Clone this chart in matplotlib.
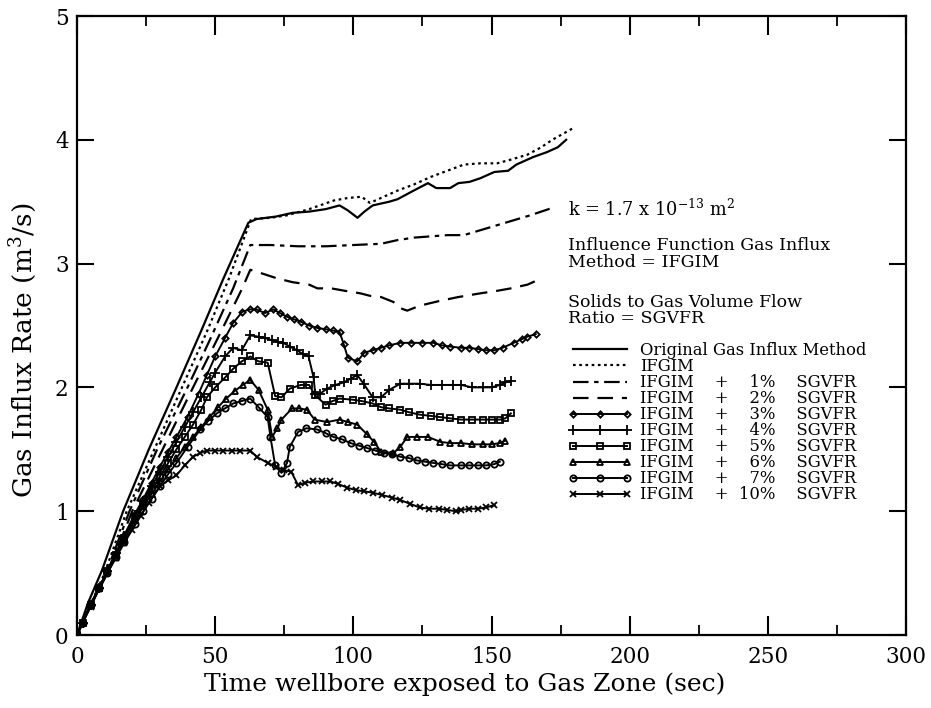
import matplotlib
matplotlib.use("Agg")
import matplotlib.pyplot as plt
from matplotlib.ticker import MultipleLocator

plt.rcParams['font.family'] = ['DejaVu Serif']
plt.rcParams['mathtext.fontset'] = 'dejavuserif'

# Gas influx rate (m^3/s) versus exposure time (s) for each method
t_orig = [0, 4, 9, 16.7, 26, 36, 45, 53, 62, 65, 72, 78, 84, 90, 95, 98, 101.5, 104, 107, 113, 116, 121, 127, 130, 135, 138, 142, 146, 151, 156, 159, 165, 170, 174, 177]
q_orig = [0, 0.26, 0.52, 1.0, 1.5, 2.0, 2.46, 2.88, 3.33, 3.36, 3.38, 3.41, 3.42, 3.44, 3.47, 3.43, 3.37, 3.42, 3.47, 3.5, 3.52, 3.58, 3.65, 3.61, 3.61, 3.65, 3.66, 3.69, 3.74, 3.75, 3.8, 3.86, 3.9, 3.94, 4.0]

t_ifgim = [0, 5, 10, 18, 28, 38, 47, 55, 63, 70, 76, 84, 93, 98, 103, 106, 110, 116, 122, 128, 134, 140, 146, 152, 157, 163, 168, 172, 176, 180]
q_ifgim = [0, 0.25, 0.5, 1.0, 1.5, 2.0, 2.45, 2.88, 3.36, 3.37, 3.39, 3.44, 3.51, 3.53, 3.54, 3.49, 3.53, 3.59, 3.64, 3.7, 3.75, 3.8, 3.81, 3.81, 3.84, 3.88, 3.94, 4.0, 4.05, 4.1]

t_1 = [0, 5, 10.5, 19, 29, 40, 48, 56.5, 62.7, 70, 80, 90, 100, 110, 116, 122, 128, 134, 140, 146, 152, 158, 164, 168, 172]
q_1 = [0, 0.25, 0.5, 1.0, 1.5, 2.0, 2.38, 2.8, 3.15, 3.15, 3.14, 3.14, 3.15, 3.16, 3.19, 3.21, 3.22, 3.23, 3.23, 3.27, 3.31, 3.35, 3.39, 3.42, 3.45]

t_2 = [0, 5, 11, 20, 31, 42, 51, 59.8, 62.7, 67, 72.5, 78, 84, 87, 92, 97, 102.5, 106, 110, 114.5, 117, 119.5, 124, 131.5, 138, 146, 152, 157, 163, 168]
q_2 = [0, 0.24, 0.5, 1.0, 1.5, 2.0, 2.4, 2.8, 2.95, 2.92, 2.88, 2.85, 2.83, 2.8, 2.8, 2.78, 2.76, 2.74, 2.73, 2.69, 2.64, 2.62, 2.66, 2.7, 2.73, 2.76, 2.78, 2.8, 2.83, 2.88]

t_3 = [0, 2, 5, 8, 11, 14, 17, 21, 24, 27, 30, 33, 36, 40, 44, 47, 50, 53.6, 56.5, 59.8, 62.5, 65, 68, 71, 73.5, 76, 78.5, 81, 84, 87, 90, 92.5, 95, 96.5, 98, 101.4, 104, 107, 110, 113, 117, 121, 125, 129, 132, 135, 139, 142, 145, 148, 151, 154, 158, 161, 163, 166]
q_3 = [0, 0.1, 0.24, 0.38, 0.52, 0.66, 0.8, 0.98, 1.1, 1.23, 1.36, 1.48, 1.6, 1.76, 1.95, 2.1, 2.25, 2.4, 2.52, 2.61, 2.63, 2.63, 2.6, 2.63, 2.6, 2.57, 2.55, 2.53, 2.5, 2.48, 2.47, 2.46, 2.45, 2.35, 2.24, 2.21, 2.28, 2.3, 2.32, 2.34, 2.36, 2.36, 2.36, 2.36, 2.34, 2.33, 2.32, 2.32, 2.31, 2.3, 2.3, 2.32, 2.36, 2.39, 2.41, 2.43]

t_4 = [0, 2, 5, 8, 11, 14, 17, 21, 24, 27, 30, 33, 36, 39, 42, 45, 48, 50, 53.6, 56.5, 59.6, 62.7, 65.7, 68, 70.6, 72.6, 74.6, 77, 79.6, 81.7, 83.8, 85.6, 86.2, 88, 90.5, 93.5, 96.5, 99, 101.4, 103.7, 107, 110, 113, 117, 120, 124, 128, 132, 136, 139, 143, 147, 150, 153, 155, 157]
q_4 = [0, 0.1, 0.24, 0.38, 0.52, 0.66, 0.8, 0.97, 1.08, 1.2, 1.32, 1.44, 1.56, 1.68, 1.8, 1.92, 2.04, 2.12, 2.25, 2.32, 2.3, 2.42, 2.41, 2.4, 2.38, 2.37, 2.36, 2.33, 2.3, 2.27, 2.25, 2.08, 1.95, 1.95, 1.99, 2.02, 2.04, 2.07, 2.1, 2.03, 1.92, 1.92, 1.98, 2.03, 2.03, 2.03, 2.02, 2.02, 2.02, 2.02, 2.0, 2.0, 2.0, 2.02, 2.04, 2.05]

t_5 = [0, 2, 5, 8, 11, 14, 17, 21, 24, 27, 30, 33, 36, 39, 42, 45, 47, 50, 53.6, 56.5, 59.6, 62.7, 65.7, 69, 71.7, 74, 77, 81, 84, 86, 90, 92.5, 95, 100, 103, 107, 110, 113, 117, 120, 124, 128, 131.5, 135, 139, 143, 147, 150, 153, 155, 157]
q_5 = [0, 0.1, 0.24, 0.38, 0.52, 0.65, 0.78, 0.95, 1.06, 1.17, 1.28, 1.39, 1.5, 1.6, 1.7, 1.82, 1.92, 2.0, 2.08, 2.15, 2.21, 2.25, 2.21, 2.2, 1.93, 1.92, 1.99, 2.02, 2.02, 1.94, 1.86, 1.89, 1.91, 1.9, 1.89, 1.87, 1.84, 1.83, 1.82, 1.8, 1.78, 1.77, 1.76, 1.75, 1.74, 1.74, 1.74, 1.74, 1.74, 1.75, 1.79]

t_6 = [0, 2, 5, 8, 11, 14, 17, 21, 24, 27, 30, 33, 36, 39, 42, 45, 48, 51, 54, 57, 60, 62.7, 65.7, 69, 70.6, 72.5, 74, 77.8, 80.5, 83.2, 86, 90.5, 95, 98, 101.4, 105, 107.5, 110, 114.5, 117, 119.5, 123, 127, 131.5, 135, 139, 143, 147, 150, 153, 155]
q_6 = [0, 0.1, 0.24, 0.38, 0.52, 0.65, 0.77, 0.93, 1.04, 1.14, 1.24, 1.34, 1.43, 1.52, 1.6, 1.68, 1.76, 1.84, 1.91, 1.97, 2.02, 2.06, 1.98, 1.82, 1.6, 1.67, 1.74, 1.83, 1.83, 1.82, 1.74, 1.72, 1.74, 1.72, 1.7, 1.62, 1.56, 1.48, 1.47, 1.52, 1.6, 1.6, 1.6, 1.56, 1.55, 1.55, 1.54, 1.54, 1.54, 1.55, 1.57]

t_7 = [0, 2, 5, 8, 11, 14, 17, 21, 24, 27, 30, 33, 36, 40, 44.6, 47.5, 50.6, 53.5, 56.5, 59.6, 62.7, 65.7, 69, 70, 71.7, 74, 76, 77, 80, 83, 87, 90, 92.8, 96, 99, 102, 105, 108, 111, 114, 117, 120, 123, 126, 129, 132, 135, 139, 142, 145, 148, 151, 153]
q_7 = [0, 0.1, 0.24, 0.38, 0.5, 0.63, 0.75, 0.9, 1.0, 1.1, 1.2, 1.3, 1.39, 1.52, 1.66, 1.73, 1.79, 1.83, 1.87, 1.89, 1.91, 1.84, 1.76, 1.6, 1.37, 1.31, 1.39, 1.52, 1.64, 1.67, 1.66, 1.63, 1.6, 1.58, 1.55, 1.53, 1.51, 1.49, 1.47, 1.46, 1.44, 1.43, 1.41, 1.4, 1.39, 1.38, 1.37, 1.37, 1.37, 1.37, 1.37, 1.38, 1.4]

t_10 = [0, 2, 5, 8, 11, 14, 17, 20, 23, 26, 30, 33, 36, 39, 42, 44.6, 47, 50, 53, 56, 59, 62.7, 65, 69, 72, 75, 77.5, 80, 82.5, 85.5, 88.5, 91.7, 94.5, 97.8, 101, 104, 107, 110.5, 114, 117, 120.5, 124, 127.5, 131, 134, 137, 139, 142, 145, 148, 151]
q_10 = [0, 0.1, 0.23, 0.37, 0.5, 0.62, 0.74, 0.85, 0.96, 1.07, 1.2, 1.25, 1.29, 1.37, 1.44, 1.47, 1.49, 1.49, 1.49, 1.49, 1.49, 1.49, 1.44, 1.39, 1.36, 1.33, 1.32, 1.21, 1.23, 1.24, 1.24, 1.24, 1.22, 1.19, 1.17, 1.16, 1.15, 1.13, 1.11, 1.09, 1.06, 1.03, 1.02, 1.02, 1.01, 1.0, 1.01, 1.02, 1.02, 1.03, 1.05]

labels = ["Original Gas Influx Method", "IFGIM",
          "IFGIM    +    1%    SGVFR", "IFGIM    +    2%    SGVFR",
          "IFGIM    +    3%    SGVFR", "IFGIM    +    4%    SGVFR",
          "IFGIM    +    5%    SGVFR", "IFGIM    +    6%    SGVFR",
          "IFGIM    +    7%    SGVFR", "IFGIM    +  10%    SGVFR"]

x_ticks = [0, 50, 100, 150, 200, 250, 300]
y_ticks = [0, 1, 2, 3, 4, 5]

fig = plt.figure(figsize=(9.31, 7.08), dpi=100)
ax = fig.add_axes([0.0827, 0.1031, 0.8905, 0.8743])

lw = 1.6
ax.plot(t_orig, q_orig, color='black', lw=lw, ls='-', label=labels[0])
ax.plot(t_ifgim, q_ifgim, color='black', lw=lw, ls=(0, (1.2, 1.6)), label=labels[1])
ax.plot(t_1, q_1, color='black', lw=lw, ls=(0, (7, 2.5, 2, 2.5)), label=labels[2])
ax.plot(t_2, q_2, color='black', lw=lw, ls=(0, (7, 4)), label=labels[3])

marker_series = [
    (t_3, q_3, 'D', 3.2, labels[4]),
    (t_4, q_4, '+', 6.5, labels[5]),
    (t_5, q_5, 's', 4.5, labels[6]),
    (t_6, q_6, '^', 4.5, labels[7]),
    (t_7, q_7, 'o', 4.5, labels[8]),
    (t_10, q_10, 'x', 4.5, labels[9]),
]
for t, q, m, ms, lab in marker_series:
    ax.plot(t, q, color='black', lw=1.4, marker=m, ms=ms, mfc='none',
            mec='black', mew=1.3, label=lab)

ax.set_xlim(0, 300)
ax.set_ylim(0, 5)
ax.set_xticks(x_ticks)
ax.set_yticks(y_ticks)
ax.xaxis.set_minor_locator(MultipleLocator(25))
ax.tick_params(which='major', direction='in', length=14, width=1.5,
               top=True, right=True, labelsize=15.5, pad=8)
ax.tick_params(which='minor', direction='in', length=7, width=1.3,
               top=True, right=True)
ax.tick_params(axis='y', which='major', length=12, pad=6)
for s in ax.spines.values():
    s.set_linewidth(1.6)

ax.set_xlabel("Time wellbore exposed to Gas Zone (sec)", fontsize=18)
ax.xaxis.set_label_coords(0.468, -0.06)
ax.set_ylabel("Gas Influx Rate (m$^3$/s)", fontsize=19)
ax.yaxis.set_label_coords(-0.046, 0.46)

ax.text(0.592, 0.688, "k = 1.7 x 10$^{-13}$ m$^{2}$", transform=ax.transAxes,
        fontsize=12.8, va='center', ha='left')
ax.text(0.592, 0.616, "Influence Function Gas Influx\nMethod = IFGIM",
        transform=ax.transAxes, fontsize=12.5, va='center', ha='left',
        linespacing=0.97)
ax.text(0.592, 0.524, "Solids to Gas Volume Flow\nRatio = SGVFR",
        transform=ax.transAxes, fontsize=12.5, va='center', ha='left',
        linespacing=0.97)

ax.legend(loc='upper left', bbox_to_anchor=(0.592, 0.473), frameon=False,
          fontsize=11.8, handlelength=3.9, handletextpad=0.5,
          labelspacing=-0.06, borderaxespad=0, borderpad=0, numpoints=3)

fig.savefig("out.png", dpi=100)
